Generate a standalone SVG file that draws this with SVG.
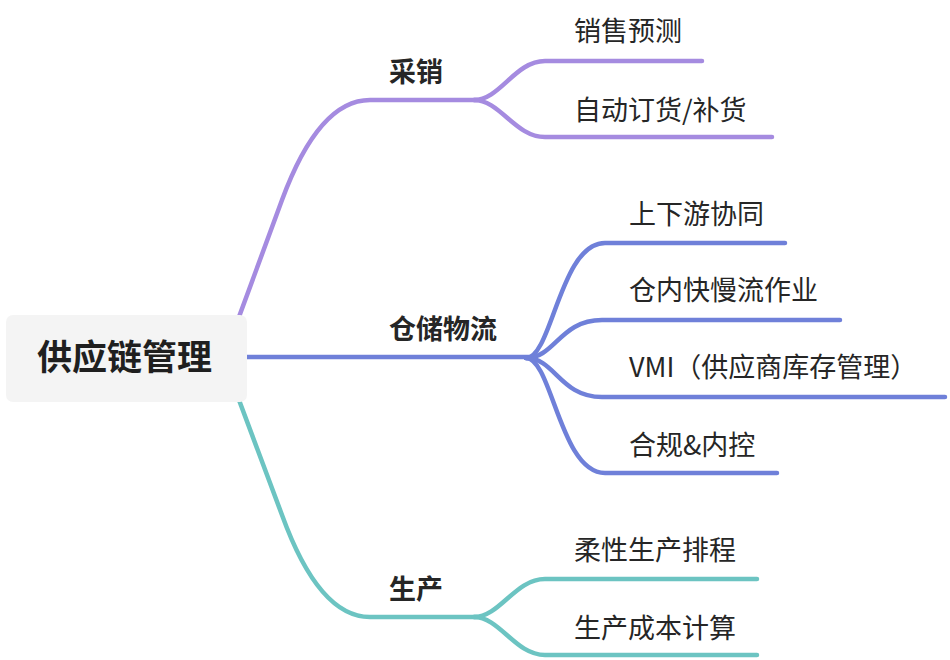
<svg xmlns="http://www.w3.org/2000/svg" width="950" height="660" viewBox="0 0 950 660">
<style>
.l{fill:none;stroke-width:4.5;stroke-linecap:round;stroke-linejoin:round}
.p{stroke:#A58BE0}.b{stroke:#6F80D9}.t{stroke:#6CC4C2}
text{font-family:"Noto Sans CJK SC","Noto Sans",sans-serif;fill:#262626}
.n3{font-size:27px}
.n2{font-size:27px;font-weight:bold}
.n1{font-size:35px;font-weight:bold;fill:#1f1f1f}
</style>
<rect width="950" height="660" fill="#ffffff"/>
<g id="connectors">
<path class="l p" d="M236 325 L282 200 Q319 100 370 100 L478 100"/>
<path class="l p" d="M474 100 C500 100 515 61 545 61 L702 61"/>
<path class="l p" d="M474 100 C500 100 515 137 545 137 L772 137"/>
<path class="l b" d="M240 357 L530 357"/>
<path class="l b" d="M526 358 C552 358 560 243 605 243 L785 243"/>
<path class="l b" d="M526 358 C555 358 560 320 602 320 L840 320"/>
<path class="l b" d="M526 358 C555 358 560 397 602 397 L945 397"/>
<path class="l b" d="M526 358 C552 358 560 473 605 473 L777 473"/>
<path class="l t" d="M236 392 L282 515 Q319 617 370 617 L478 617"/>
<path class="l t" d="M474 617 C500 617 515 579 545 579 L757 579"/>
<path class="l t" d="M474 617 C500 617 515 655 545 655 L757 655"/>
</g>
<g id="root">
<rect x="6" y="315" width="241" height="87" rx="7" fill="#F4F4F4"/>
<text class="n1" x="37" y="370">供应链管理</text>
</g>
<g id="n-caixiao"><text class="n2" x="389" y="82">采销</text></g>
<g id="n-xiaoshou"><text class="n3" x="574" y="41">销售预测</text></g>
<g id="n-zidong"><text class="n3" x="574" y="120">自动订货/补货</text></g>
<g id="n-cangchu"><text class="n2" x="389" y="339">仓储物流</text></g>
<g id="n-shangxia"><text class="n3" x="629" y="224">上下游协同</text></g>
<g id="n-cangnei"><text class="n3" x="629" y="300">仓内快慢流作业</text></g>
<g id="n-vmi"><text class="n3" x="629" y="377">VMI（供应商库存管理）</text></g>
<g id="n-hegui"><text class="n3" x="629" y="455">合规&amp;内控</text></g>
<g id="n-shengchan"><text class="n2" x="389" y="599">生产</text></g>
<g id="n-rouxing"><text class="n3" x="574" y="560">柔性生产排程</text></g>
<g id="n-chengben"><text class="n3" x="574" y="638">生产成本计算</text></g>
</svg>
